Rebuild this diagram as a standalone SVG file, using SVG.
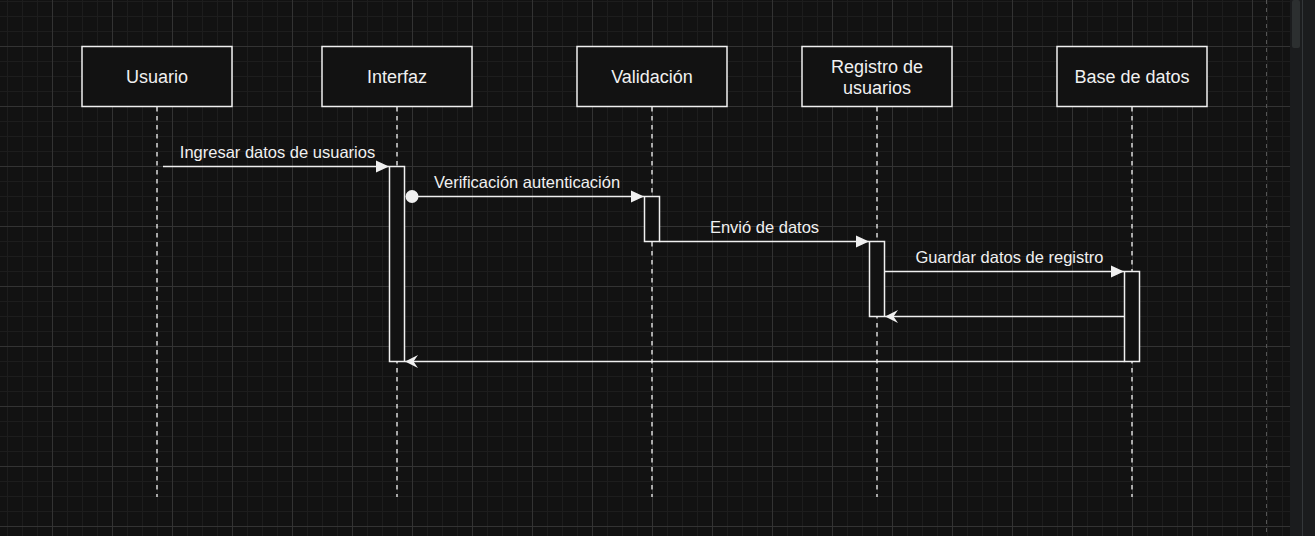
<svg xmlns="http://www.w3.org/2000/svg" width="1315" height="536" viewBox="0 0 1315 536">
  <defs>
    <pattern id="grid" patternUnits="userSpaceOnUse" x="52" y="46" width="60" height="60">
      <rect width="60" height="60" fill="#121212"/>
      <path d="M15.5 0V60M30.5 0V60M45.5 0V60M0 15.5H60M0 30.5H60M0 45.5H60" stroke="#1d1d1d" stroke-width="1"/>
      <path d="M0.5 0V60M0 0.5H60" stroke="#333333" stroke-width="1"/>
    </pattern>
    <marker id="block" markerUnits="userSpaceOnUse" markerWidth="16" markerHeight="16" refX="13" refY="7" orient="auto">
      <path d="M0 1L13 7L0 13Z" fill="#f0f0f0"/>
    </marker>
    <marker id="classic" markerUnits="userSpaceOnUse" markerWidth="16" markerHeight="16" refX="13" refY="7" orient="auto">
      <path d="M0 0.5L13 7L0 13.5L4.5 7Z" fill="#f0f0f0"/>
    </marker>
    <marker id="oval" markerUnits="userSpaceOnUse" markerWidth="16" markerHeight="16" refX="8" refY="8" orient="auto">
      <circle cx="8" cy="8" r="6.5" fill="#f0f0f0"/>
    </marker>
  </defs>
  <style>
    .box{fill:#121212;stroke:#f0f0f0;stroke-width:1.5}
    .act{fill:#121212;stroke:#f0f0f0;stroke-width:1.5}
    .life{stroke:#d8d8d8;stroke-width:1.5;stroke-dasharray:4.5 4.5;fill:none}
    .node{font-family:"Liberation Sans",Arial,sans-serif;font-size:18px;fill:#f0f0f0;text-anchor:middle}
    .lbl{font-family:"Liberation Sans",Arial,sans-serif;font-size:16.5px;fill:#f0f0f0;text-anchor:middle}
    .msg{stroke:#f0f0f0;stroke-width:1.5;fill:none}
  </style>
  <rect width="1315" height="536" fill="#121212"/>
  <rect width="1290" height="536" fill="url(#grid)"/>
  <line x1="1266.5" y1="0" x2="1266.5" y2="536" stroke="#555" stroke-width="1" stroke-dasharray="4 4"/>
  <rect x="1290" y="0" width="25" height="536" fill="#1b1c1e"/>
  <rect x="1292" y="0" width="8" height="48" rx="2" fill="#2c2f30"/>
  <line x1="1302.5" y1="0" x2="1302.5" y2="536" stroke="#34373a" stroke-width="1"/>

  <g id="lifelines">
    <line class="life" x1="157" y1="107" x2="157" y2="497"/>
    <line class="life" x1="397" y1="107" x2="397" y2="497"/>
    <line class="life" x1="652" y1="107" x2="652" y2="497"/>
    <line class="life" x1="877" y1="107" x2="877" y2="497"/>
    <line class="life" x1="1132" y1="107" x2="1132" y2="497"/>
  </g>

  <g id="usuario">
    <rect class="box" x="82" y="46.5" width="150" height="60"/>
    <text class="node" x="157" y="82.5">Usuario</text>
  </g>
  <g id="interfaz">
    <rect class="box" x="322" y="46.5" width="150" height="60"/>
    <text class="node" x="397" y="82.5">Interfaz</text>
    <rect class="act" x="389.5" y="166.5" width="15" height="195"/>
  </g>
  <g id="validacion">
    <rect class="box" x="577" y="46.5" width="150" height="60"/>
    <text class="node" x="652" y="82.5">Validación</text>
    <rect class="act" x="644.5" y="196.5" width="15" height="45"/>
  </g>
  <g id="registro">
    <rect class="box" x="802" y="46.5" width="150" height="60"/>
    <text class="node" x="877" y="72.5">Registro de</text>
    <text class="node" x="877" y="94">usuarios</text>
    <rect class="act" x="869.5" y="241.5" width="15" height="75"/>
  </g>
  <g id="basedatos">
    <rect class="box" x="1057" y="46.5" width="150" height="60"/>
    <text class="node" x="1132" y="82.5">Base de datos</text>
    <rect class="act" x="1124.5" y="271.5" width="15" height="90"/>
  </g>

  <g id="connectors">
    <line class="msg" x1="163" y1="166.5" x2="389" y2="166.5" marker-end="url(#block)"/>
    <text class="lbl" x="277.5" y="158">Ingresar datos de usuarios</text>
    <line class="msg" x1="412" y1="196.5" x2="644" y2="196.5" marker-start="url(#oval)" marker-end="url(#block)"/>
    <text class="lbl" x="527" y="188">Verificación autenticación</text>
    <line class="msg" x1="659.5" y1="241.5" x2="869" y2="241.5" marker-end="url(#block)"/>
    <text class="lbl" x="764.5" y="233">Envió de datos</text>
    <line class="msg" x1="884.5" y1="271.5" x2="1124" y2="271.5" marker-end="url(#block)"/>
    <text class="lbl" x="1009.5" y="263">Guardar datos de registro</text>
    <line class="msg" x1="1124.5" y1="316.5" x2="885" y2="316.5" marker-end="url(#classic)"/>
    <line class="msg" x1="1124.5" y1="361.5" x2="405" y2="361.5" marker-end="url(#classic)"/>
  </g>
</svg>
